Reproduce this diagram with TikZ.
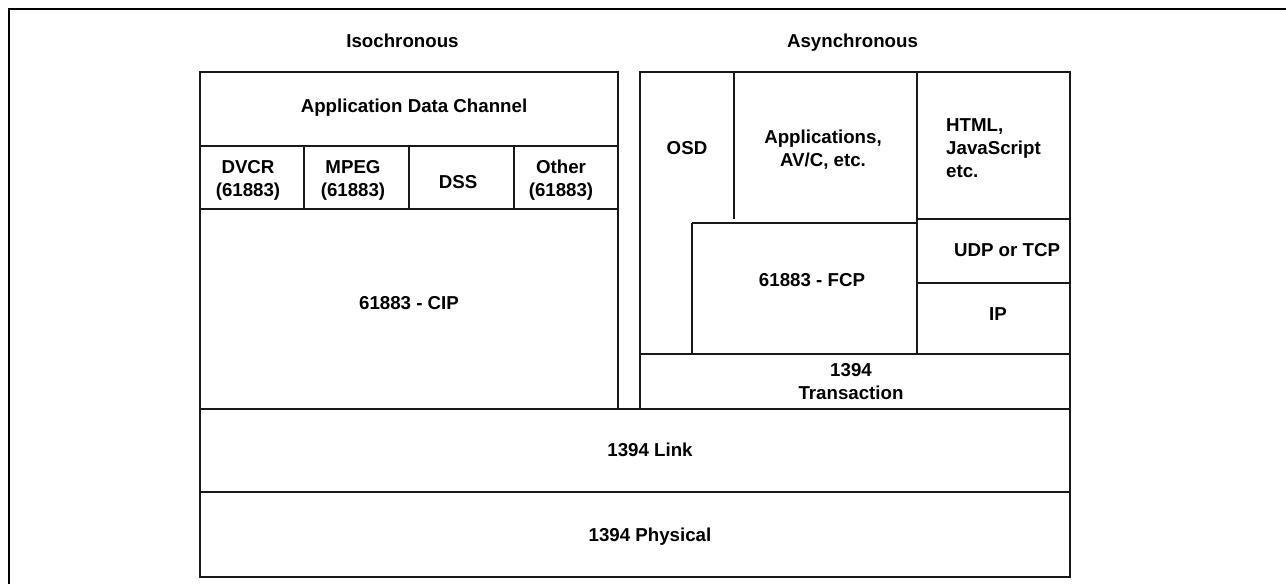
\documentclass[tikz,border=0pt]{standalone}
\usepackage{fontspec}
\setmainfont{Liberation Sans}
\begin{document}
\begin{tikzpicture}[x=1pt,y=-1pt,
  box/.style={draw=black!90, line width=1.3pt},
  thin/.style={draw=black!90, line width=1.1pt},
  frame/.style={draw=black, line width=2.6pt},
  lbl/.style={font=\bfseries\fontsize{18.7}{23}\selectfont, align=center, inner sep=0pt}]
\useasboundingbox (0,0) rectangle (1286,584);
% outer frame
\draw[frame] (9,600) -- (9,9) -- (1300,9);
% left (isochronous) stack
\draw[box] (200,72) rectangle (618,409);
\draw[box] (200,146) -- (618,146);
\draw[box] (200,209) -- (618,209);
\draw[box] (304,146) -- (304,209);
\draw[box] (409,146) -- (409,209);
\draw[box] (514,146) -- (514,209);
% right (asynchronous) stack
\draw[box] (640,72) rectangle (1070,409);
\draw[box] (640,354) -- (1070,354);
\draw[thin] (734,72) -- (734,219);
\draw[thin] (692,354) -- (692,223);
\draw[box] (692,223) -- (918,223);
\draw[thin] (917,72) -- (917,354);
\draw[box] (917,219) rectangle (1070,283);
% common lower layers
\draw[box] (200,409) rectangle (1070,577);
\draw[box] (200,492) -- (1070,492);
% labels
\node[lbl, anchor=base] (iso) at (402.5,47) {Isochronous};
\node[lbl, anchor=base] (asy) at (852.5,47) {Asynchronous};
\node[lbl] (adc) at (414,108) {Application Data Channel};
\node[lbl] (dvcr) at (248,180) {DVCR\\(61883)};
\node[lbl] (mpeg) at (353,180) {MPEG\\(61883)};
\node[lbl] (dss) at (458,182) {DSS};
\node[lbl] (oth) at (561,180) {Other\\(61883)};
\node[lbl] (cip) at (409,303) {61883 - CIP};
\node[lbl] (osd) at (687,148) {OSD};
\node[lbl] (app) at (823,150) {Applications,\\AV/C, etc.};
\node[lbl, align=left, anchor=west] (html) at (946,148) {HTML,\\JavaScript\\etc.};
\node[lbl] (udp) at (1007,250) {UDP or TCP};
\node[lbl] (ip) at (998,314) {IP};
\node[lbl] (fcp) at (812,280) {61883 - FCP};
\node[lbl] (trn) at (851,382) {1394\\Transaction};
\node[lbl, anchor=base] (lnk) at (650,456) {1394 Link};
\node[lbl, anchor=base] (phy) at (650,541) {1394 Physical};
\end{tikzpicture}
\end{document}
